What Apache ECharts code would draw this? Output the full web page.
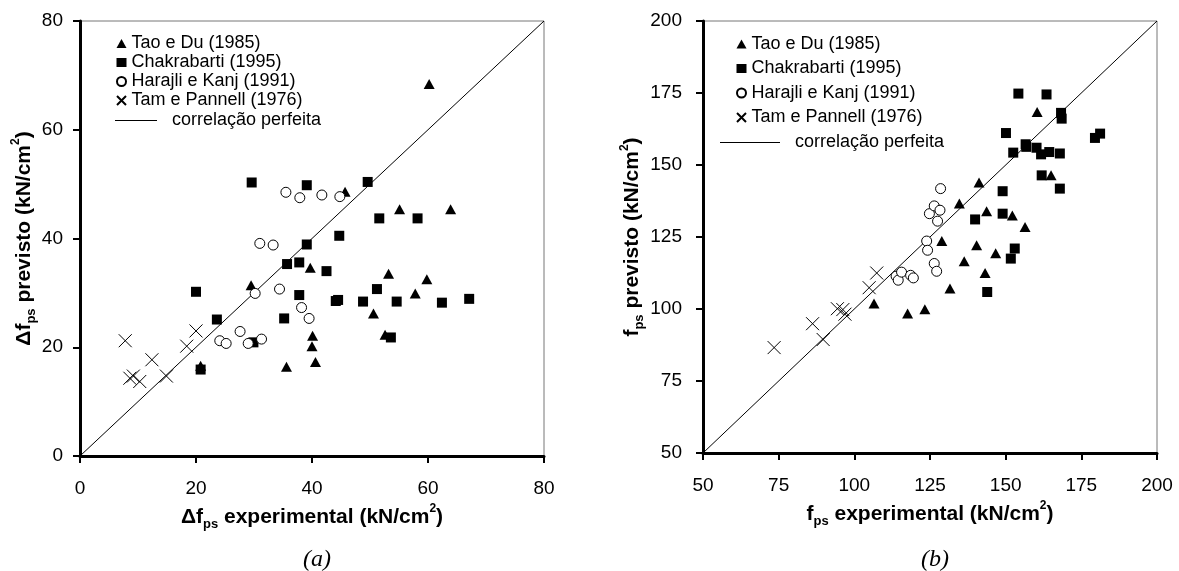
<!DOCTYPE html>
<html>
<head>
<meta charset="utf-8">
<title>Δfps e fps: previsto x experimental</title>
<script src="https://cdn.jsdelivr.net/npm/echarts@6/dist/echarts.min.js"></script>
<style>
  html, body { margin: 0; padding: 0; background: #fff; }
  #chart { width: 1179px; height: 571px; }
</style>
</head>
<body>
<div id="chart"></div>
<script>
// Series names shared by both panels
const seriesNames = ['Tao e Du (1985)', 'Chakrabarti (1995)', 'Harajli e Kanj (1991)', 'Tam e Pannell (1976)'];
const lineName = 'correlação perfeita';

// Panel (a): Δfps experimental x Δfps previsto (kN/cm²)
const deltaTicks = [0, 20, 40, 60, 80];
const taoDuDelta = [[20.8,16.6],[29.5,31.4],[35.6,16.4],[39.7,34.6],[40.1,22.1],[40.0,20.2],[40.6,17.3],[45.7,48.6],[50.6,26.2],[52.6,22.3],[53.2,33.5],[55.1,45.4],[57.8,29.9],[59.8,32.5],[60.2,68.4],[63.9,45.4]];
const chakrabartiDelta = [[20.0,30.2],[20.8,15.9],[23.6,25.1],[29.6,50.3],[29.9,20.9],[35.2,25.3],[35.7,35.3],[37.8,35.6],[37.8,29.6],[39.1,49.8],[39.1,38.9],[42.5,34.0],[44.1,28.5],[44.5,28.7],[44.7,40.5],[48.8,28.4],[49.6,50.4],[51.2,30.7],[51.6,43.7],[53.6,21.8],[54.6,28.4],[58.2,43.7],[62.4,28.2],[67.1,28.9]];
const harajliDelta = [[24.1,21.2],[25.2,20.7],[27.6,22.9],[29.0,20.7],[30.2,29.9],[31.0,39.1],[31.3,21.5],[33.3,38.8],[34.4,30.7],[35.5,48.5],[37.9,47.5],[38.2,27.3],[39.5,25.3],[41.7,48.0],[44.8,47.7]];
const tamDelta = [[7.8,21.2],[8.6,14.3],[9.2,14.7],[10.3,13.7],[12.4,17.7],[14.9,14.7],[18.4,20.2],[20.0,23.0]];

// Panel (b): fps experimental x fps previsto (kN/cm²)
const totalTicks = [50, 75, 100, 125, 150, 175, 200];
const taoDuTotal = [[106.5,101.9],[117.6,98.4],[123.3,99.9],[128.9,123.6],[131.6,107.1],[134.7,136.6],[136.3,116.6],[140.4,122.1],[141.2,143.9],[143.2,112.5],[143.7,133.9],[146.7,119.4],[152.2,132.5],[156.4,128.5],[160.4,168.4],[165.0,146.4]];
const chakrabartiTotal = [[139.9,131.1],[143.9,105.9],[149.0,140.9],[149.0,133.1],[150.1,161.1],[151.7,117.5],[152.5,154.3],[153.0,121.0],[154.2,174.8],[156.6,157.2],[156.8,156.3],[160.2,156.0],[161.7,153.7],[161.9,146.4],[163.5,174.5],[164.4,154.5],[167.9,154.0],[167.9,141.8],[168.3,168.1],[168.5,166.1],[179.5,159.4],[181.2,160.9]];
const harajliTotal = [[113.8,111.4],[114.5,110.0],[115.6,112.8],[118.6,111.7],[119.5,110.8],[123.9,123.6],[124.2,120.4],[124.8,133.1],[126.4,115.8],[126.4,135.8],[127.2,113.1],[127.5,130.5],[128.3,134.3],[128.5,141.8]];
const tamTotal = [[73.5,86.6],[86.2,94.9],[89.7,89.4],[94.4,100.1],[96.2,99.8],[96.9,98.2],[104.9,107.4],[107.4,112.5]];

const FONT = '"Liberation Sans", Arial, Helvetica, sans-serif';
const SERIF = '"Liberation Serif", "Times New Roman", serif';

// 45° reference line spanning the axis range
function identityLine(ticks) {
  const lo = ticks[0], hi = ticks[ticks.length - 1];
  return [[lo, lo], [hi, hi]];
}

const nameRich = {
  sub: { fontFamily: FONT, fontWeight: 'bold', fontSize: 13, lineHeight: 13, verticalAlign: 'bottom', color: '#000' },
  sup: { fontFamily: FONT, fontWeight: 'bold', fontSize: 12, lineHeight: 12, verticalAlign: 'top', color: '#000' }
};
const nameStyle = { fontFamily: FONT, fontWeight: 'bold', fontSize: 21, lineHeight: 28, color: '#000', rich: nameRich };

function valueAxis(ticks, gridIndex, extra) {
  return Object.assign({
    type: 'value',
    gridIndex: gridIndex,
    min: ticks[0],
    max: ticks[ticks.length - 1],
    interval: ticks[1] - ticks[0],
    nameLocation: 'middle',
    nameTextStyle: nameStyle,
    axisLine: { show: true, onZero: false, lineStyle: { color: '#000', width: 3 } },
    axisTick: { show: true, inside: false, length: 7, lineStyle: { color: '#000', width: 2 } },
    axisLabel: { color: '#000', fontFamily: FONT, fontSize: 19 },
    splitLine: { show: false }
  }, extra);
}

const styles = {
  tao: { symbol: 'triangle', symbolSize: [11, 10], itemStyle: { color: '#000', opacity: 1 } },
  chak: { symbol: 'rect', symbolSize: [10, 10], itemStyle: { color: '#000', opacity: 1 } },
  hara: { symbol: 'circle', symbolSize: 10, itemStyle: { color: '#fff', borderColor: '#000', borderWidth: 1, opacity: 1 } },
  tam: { symbol: 'path://M0,0L12,12M12,0L0,12', symbolSize: 13, itemStyle: { color: 'rgba(0,0,0,0)', borderColor: '#000', borderWidth: 1, opacity: 1 } }
};

function scatter(name, data, st, idx) {
  return Object.assign({
    type: 'scatter', name: name, data: data,
    xAxisIndex: idx, yAxisIndex: idx, z: 3,
    emphasis: { disabled: true }
  }, st);
}

function lineSeries(ticks, idx) {
  return {
    type: 'line', name: lineName, data: identityLine(ticks),
    xAxisIndex: idx, yAxisIndex: idx, symbol: 'none', z: 2,
    lineStyle: { color: '#000', width: 1 }, itemStyle: { color: '#000' },
    emphasis: { disabled: true }
  };
}

const legendText = { fontFamily: FONT, fontSize: 18, lineHeight: 19, color: '#000' };

const option = {
  animation: false,
  backgroundColor: '#fff',
  grid: [
    { left: 80, top: 21, width: 464, height: 435, show: true, borderColor: '#777', borderWidth: 1, backgroundColor: 'transparent' },
    { left: 703, top: 21, width: 454, height: 432, show: true, borderColor: '#777', borderWidth: 1, backgroundColor: 'transparent' }
  ],
  xAxis: [
    valueAxis(deltaTicks, 0, { name: 'Δf{sub|ps} experimental (kN/cm{sup|2})', nameGap: 41, axisLabel: { color: '#000', fontFamily: FONT, fontSize: 19, margin: 23 } }),
    valueAxis(totalTicks, 1, { name: 'f{sub|ps} experimental (kN/cm{sup|2})', nameGap: 41, axisLabel: { color: '#000', fontFamily: FONT, fontSize: 19, margin: 23 } })
  ],
  yAxis: [
    valueAxis(deltaTicks, 0, { name: 'Δf{sub|ps} previsto (kN/cm{sup|2})', nameRotate: 90, nameGap: 39, axisLabel: { color: '#000', fontFamily: FONT, fontSize: 19, margin: 17 } }),
    valueAxis(totalTicks, 1, { name: 'f{sub|ps} previsto (kN/cm{sup|2})', nameRotate: 90, nameGap: 56, axisLabel: { color: '#000', fontFamily: FONT, fontSize: 19, margin: 21 } })
  ],
  legend: [
    { orient: 'vertical', left: 111, top: 29, itemWidth: 10, itemHeight: 9, itemGap: 0, data: seriesNames, textStyle: legendText, selectedMode: false },
    { orient: 'vertical', left: 110, top: 106, itemWidth: 42, itemHeight: 1, data: [{ name: lineName, icon: 'rect' }], formatter: '  {name}', textStyle: legendText, selectedMode: false },
    { orient: 'vertical', left: 731, top: 29.5, itemWidth: 10, itemHeight: 9, itemGap: 5.5, data: seriesNames, textStyle: legendText, selectedMode: false },
    { orient: 'vertical', left: 715, top: 128, itemWidth: 60, itemHeight: 1, data: [{ name: lineName, icon: 'rect' }], formatter: '  {name}', textStyle: legendText, selectedMode: false }
  ],
  title: [
    { text: '(a)', left: 312, top: 543, textAlign: 'center', textStyle: { fontFamily: SERIF, fontStyle: 'italic', fontWeight: 'normal', fontSize: 24, color: '#000' } },
    { text: '(b)', left: 930, top: 543, textAlign: 'center', textStyle: { fontFamily: SERIF, fontStyle: 'italic', fontWeight: 'normal', fontSize: 24, color: '#000' } }
  ],
  series: [
    lineSeries(deltaTicks, 0),
    scatter(seriesNames[0], taoDuDelta, styles.tao, 0),
    scatter(seriesNames[1], chakrabartiDelta, styles.chak, 0),
    scatter(seriesNames[2], harajliDelta, styles.hara, 0),
    scatter(seriesNames[3], tamDelta, styles.tam, 0),
    lineSeries(totalTicks, 1),
    scatter(seriesNames[0], taoDuTotal, styles.tao, 1),
    scatter(seriesNames[1], chakrabartiTotal, styles.chak, 1),
    scatter(seriesNames[2], harajliTotal, styles.hara, 1),
    scatter(seriesNames[3], tamTotal, styles.tam, 1)
  ]
};

const chart = echarts.init(document.getElementById('chart'), null, { renderer: 'canvas' });
chart.setOption(option);
</script>
</body>
</html>
